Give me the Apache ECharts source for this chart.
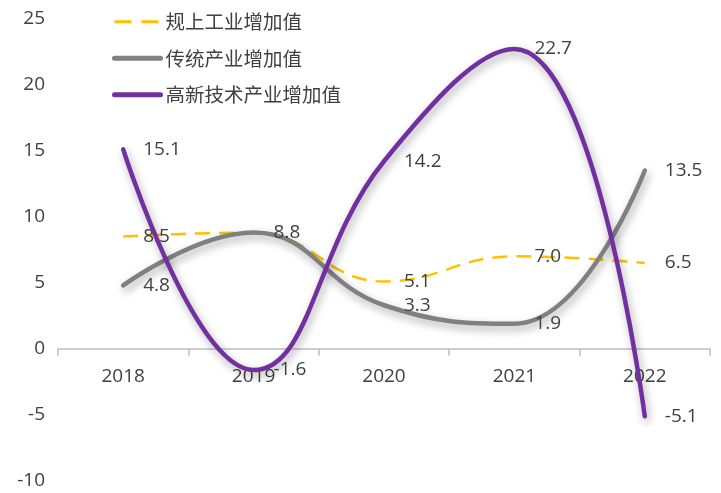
<!DOCTYPE html>
<html>
<head>
<meta charset="utf-8">
<script src="https://cdn.jsdelivr.net/npm/echarts@6/dist/echarts.min.js"></script>
<style>
  html, body { margin: 0; padding: 0; background: #ffffff; }
  #chart { width: 721px; height: 493px; }
</style>
</head>
<body>
<div id="chart"></div>
<script>
const years = ['2018', '2019', '2020', '2021', '2022'];
const industrialValues = [8.5, 8.8, 5.1, 7.0, 6.5];
const traditionalValues = [4.8, 8.8, 3.3, 1.9, 13.5];
const hiTechValues = [15.1, -1.6, 14.2, 22.7, -5.1];
const yTicks = [-10, -5, 0, 5, 10, 15, 20, 25];

const seriesNames = ['规上工业增加值', '传统产业增加值', '高新技术产业增加值'];
const textColor = '#404040';
const fontFamily = '"Open Sans", "Noto Sans CJK SC", sans-serif';
const colors = ['#FFC000', '#808080', '#7030A0'];

const chart = echarts.init(document.getElementById('chart'));

function valueLabel() {
  return {
    show: true,
    position: 'right',
    distance: 20,
    color: textColor,
    fontSize: 19,
    fontFamily: fontFamily,
    formatter: p => p.value.toFixed(1)
  };
}

const shadow = {
  shadowColor: 'rgba(0,0,0,0.35)',
  shadowBlur: 8,
  shadowOffsetX: 2,
  shadowOffsetY: 4
};
const noShadow = { shadowBlur: 0, shadowOffsetX: 0, shadowOffsetY: 0 };

const gridTop = 18.5, gridBottom = 12;
const plotHeight = 493 - gridTop - gridBottom;
// the category axis sits on the zero line
const zeroOffset = -plotHeight * (0 - yTicks[0]) / (yTicks[yTicks.length - 1] - yTicks[0]);

chart.setOption({
  animation: false,
  backgroundColor: '#ffffff',
  grid: { left: 58, right: 11, top: gridTop, bottom: gridBottom, outerBoundsMode: 'none', containLabel: false },
  legend: {
    orient: 'vertical',
    left: 107,
    top: 7,
    itemWidth: 46,
    itemHeight: 14,
    itemGap: 17,
    itemStyle: { opacity: 0 },
    data: [
      { name: seriesNames[0], lineStyle: Object.assign({ width: 3, type: [17, 10] }, noShadow) },
      { name: seriesNames[1], lineStyle: Object.assign({ width: 5, cap: 'round' }, noShadow) },
      { name: seriesNames[2], lineStyle: Object.assign({ width: 5, cap: 'round' }, noShadow) }
    ],
    textStyle: { color: textColor, fontSize: 19.5, fontFamily: '"Noto Sans CJK SC", sans-serif' }
  },
  xAxis: {
    type: 'category',
    data: years,
    boundaryGap: true,
    position: 'bottom',
    offset: zeroOffset,
    axisLine: { onZero: false, lineStyle: { color: '#bfbfbf', width: 1.5 } },
    axisTick: { show: true, length: 7, lineStyle: { color: '#bfbfbf', width: 1.5 } },
    axisLabel: { color: textColor, fontSize: 19, fontFamily: fontFamily, margin: 18 }
  },
  yAxis: {
    type: 'value',
    min: yTicks[0],
    max: yTicks[yTicks.length - 1],
    interval: 5,
    axisLine: { show: false },
    axisTick: { show: false },
    splitLine: { show: false },
    axisLabel: { color: textColor, fontSize: 19, fontFamily: fontFamily, margin: 13 }
  },
  series: [
    {
      name: seriesNames[0],
      type: 'line',
      data: industrialValues.map((v, i) => i === 1 ? { value: v, label: { show: false } } : v),
      smooth: 0.45,
      symbol: 'circle',
      symbolSize: 0.01,
      color: colors[0],
      lineStyle: { color: colors[0], width: 2.5, type: [15, 9] },
      label: valueLabel(),
      z: 2
    },
    {
      name: seriesNames[1],
      type: 'line',
      data: traditionalValues,
      smooth: 0.45,
      symbol: 'circle',
      symbolSize: 0.01,
      color: colors[1],
      lineStyle: Object.assign({ color: colors[1], width: 4.5, cap: 'round' }, shadow),
      label: valueLabel(),
      z: 3
    },
    {
      name: seriesNames[2],
      type: 'line',
      data: hiTechValues,
      smooth: 0.45,
      symbol: 'circle',
      symbolSize: 0.01,
      color: colors[2],
      lineStyle: Object.assign({ color: colors[2], width: 4.5, cap: 'round' }, shadow),
      label: valueLabel(),
      z: 4
    }
  ]
});
</script>
</body>
</html>
